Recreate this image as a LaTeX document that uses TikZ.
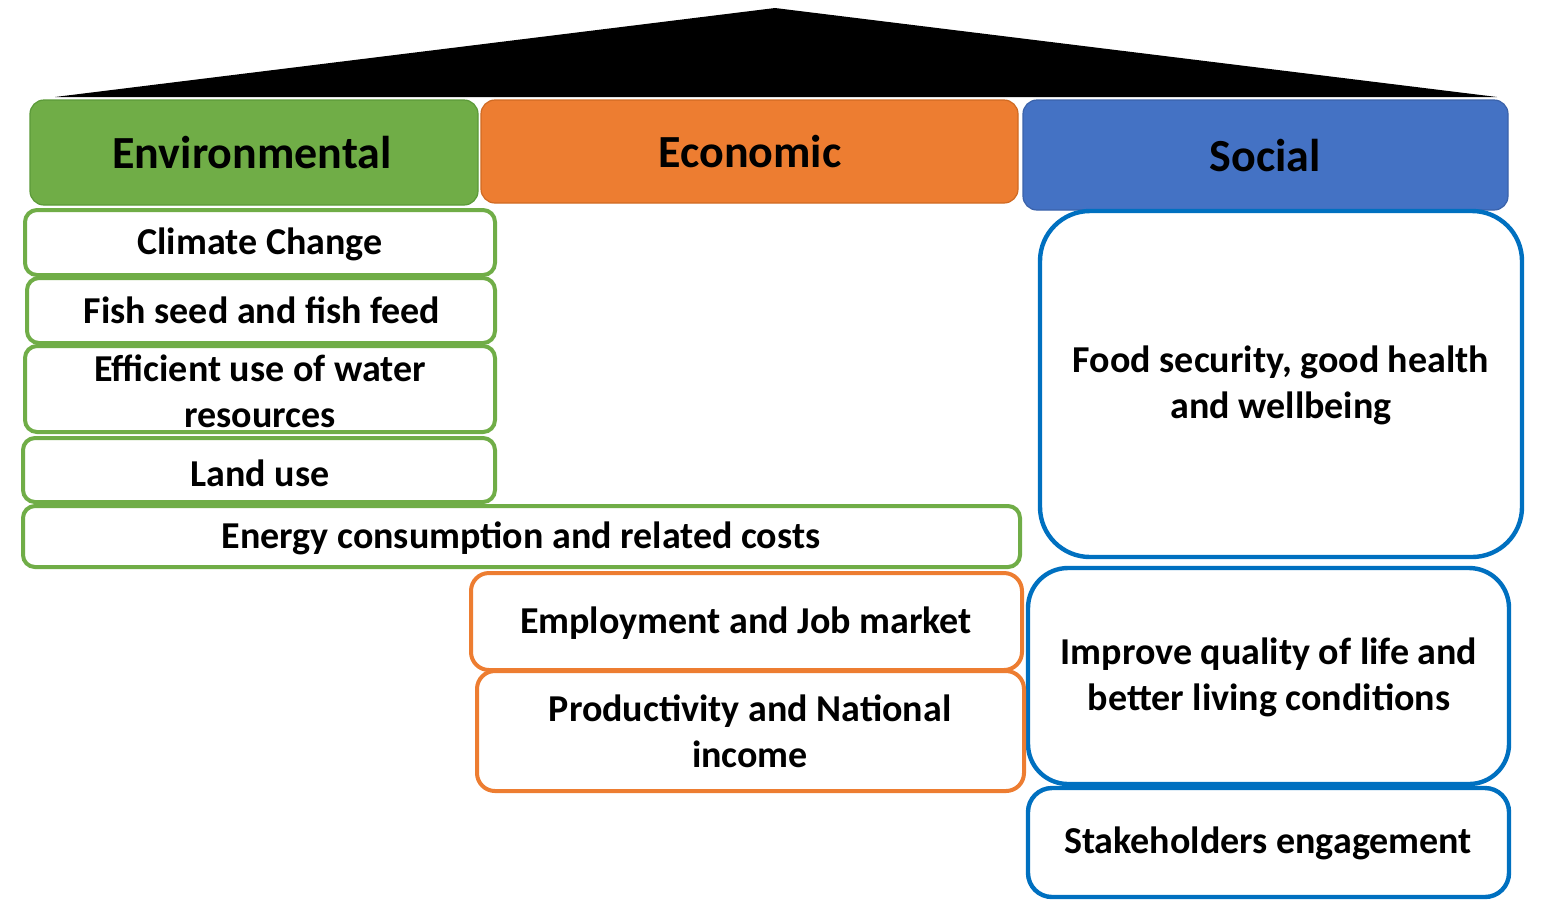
\documentclass[tikz,border=0pt]{standalone}
\usepackage{fontspec}
\setmainfont{Carlito}
\usetikzlibrary{fit}
\definecolor{envgreen}{HTML}{70AD47}
\definecolor{envdark}{HTML}{5B9A38}
\definecolor{ecoorange}{HTML}{ED7D31}
\definecolor{ecodark}{HTML}{D06A22}
\definecolor{socblue}{HTML}{4472C4}
\definecolor{socdark}{HTML}{3A62AA}
\definecolor{socline}{HTML}{0070C0}
\tikzset{
  txt/.style={font=\bfseries\fontsize{19}{23}\selectfont, align=center, text=black, inner sep=0pt},
  headtxt/.style={font=\bfseries\fontsize{23}{26}\selectfont, text=black, inner sep=0pt},
  head/.style={inner sep=0pt, rounded corners=7pt, line width=0.6pt},
  envhead/.style={head, fill=envgreen, draw=envdark},
  ecohead/.style={head, fill=ecoorange, draw=ecodark},
  sochead/.style={head, fill=socblue, draw=socdark},
  item/.style={inner sep=0pt, fill=white, line width=2pt},
  envbox/.style={item, draw=envgreen, rounded corners=6pt},
  ecobox/.style={item, draw=ecoorange, rounded corners=9pt},
  socbox/.style={item, draw=socline, line width=2.2pt},
}
\begin{document}
\begin{tikzpicture}[x=0.5pt,y=-0.5pt]
\useasboundingbox (0,0) rectangle (1547,912);
% roof
\coordinate (rl) at (55,97);
\coordinate (rt) at (775,8);
\coordinate (rr) at (1497,97);
\fill[black] (rl) -- (rt) -- (rr) -- cycle;
% headers
\node[envhead, fit={(30,100)(478,205)}] (env) {};
\node[headtxt] (env-t) at (252,153) {Environmental};
\node[ecohead, fit={(481,100)(1018,203)}] (eco) {};
\node[headtxt] (eco-t) at (750,152) {Economic};
\node[sochead, fit={(1023,100)(1508,210)}] (soc) {};
\node[headtxt] (soc-t) at (1265,156) {Social};
% social items
\node[socbox, rounded corners=25pt, fit={(1040,211)(1522,557)}] (food) {};
\node[txt] (food-t) at (1281,385) {Food security, good health\\and wellbeing};
\node[socbox, rounded corners=20pt, fit={(1028,568)(1509,784)}] (qual) {};
\node[txt] (qual-t) at (1269,677) {Improve quality of life and\\better living conditions};
\node[socbox, rounded corners=12pt, fit={(1028,788)(1509,897)}] (stake) {};
\node[txt] (stake-t) at (1268,843) {Stakeholders engagement};
% economic items
\node[ecobox, fit={(471,573)(1022,670)}] (empl) {};
\node[txt] (empl-t) at (746,623) {Employment and Job market};
\node[ecobox, fit={(477,671)(1024,791)}] (prod) {};
\node[txt] (prod-t) at (750,731) {Productivity and National\\income};
% environmental items
\node[envbox, fit={(23,506)(1020,567)}] (energy) {};
\node[txt] (energy-t) at (521,538) {Energy consumption and related costs};
\node[envbox, fit={(23,438)(495,502)}] (land) {};
\node[txt] (land-t) at (260,473) {Land use};
\node[envbox, fit={(25,346)(495,432)}] (water) {};
\node[txt] (water-t) at (260,391) {Efficient use of water\\resources};
\node[envbox, fit={(27,278)(495,343)}] (fish) {};
\node[txt] (fish-t) at (262,310) {Fish seed and fish feed};
\node[envbox, fit={(25,210)(495,275)}] (climate) {};
\node[txt] (climate-t) at (260,244) {Climate Change};
\end{tikzpicture}
\end{document}
